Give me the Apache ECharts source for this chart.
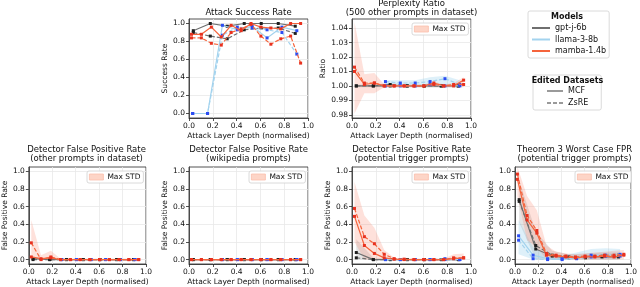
<!DOCTYPE html>
<html><head><meta charset="utf-8">
<script src="https://cdn.jsdelivr.net/npm/echarts@6/dist/echarts.min.js"></script>
<style>html,body{margin:0;padding:0;background:#fff}#c{width:640px;height:287px}</style>
</head><body><div id="c"></div>
<script>
// ---------- x positions (normalised attack layer depth) ----------
const xGpt   = [0.036, 0.179, 0.321, 0.464, 0.607, 0.750, 0.893];
const xLlama = [0.031, 0.156, 0.281, 0.406, 0.531, 0.656, 0.781, 0.906];
const xMamba = [0.021, 0.104, 0.188, 0.271, 0.354, 0.438, 0.521, 0.604, 0.688, 0.771, 0.854, 0.938];

// ---------- Attack Success Rate ----------
const asrGptMcf    = [0.92, 1.00, 0.97, 1.00, 1.00, 1.00, 0.97];
const asrGptZsre   = [0.90, 0.86, 0.83, 0.93, 0.95, 0.95, 0.89];
const asrLlamaMcf  = [0.00, 0.00, 0.98, 0.93, 0.97, 0.84, 0.96, 0.92];
const asrLlamaZsre = [0.00, 0.00, 0.87, 0.96, 0.95, 0.93, 0.90, 0.66];
const asrMambaMcf  = [0.88, 0.88, 0.96, 0.85, 0.98, 0.92, 1.00, 0.96, 0.95, 0.94, 1.00, 1.00];
const asrMambaZsre = [0.84, 0.84, 0.78, 0.76, 0.90, 0.94, 0.99, 0.86, 0.77, 0.83, 0.86, 0.56];

// ---------- Perplexity Ratio ----------
const pplGptMcf    = [1.000, 1.000, 1.000, 1.000, 1.000, 1.000, 1.000];
const pplGptZsre   = [1.000, 1.000, 1.001, 1.000, 1.000, 1.000, 1.000];
const pplLlamaMcf  = [null, null, 1.000, 1.000, 1.000, 1.001, 1.000, 1.000];
const pplLlamaZsre = [null, null, 1.003, 1.002, 1.002, 1.003, 1.005, 1.001];
const pplMambaMcf  = [1.010, 1.001, 1.002, 1.000, 1.000, 1.000, 1.000, 1.000, 1.002, 1.000, 1.000, 1.004];
const pplMambaZsre = [1.013, 1.002, 1.002, 1.000, 1.000, 1.000, 1.000, 1.000, 1.001, 1.000, 1.001, 1.001];
const pplGptLo   = [0.999, 0.999, 0.999, 0.999, 0.999, 0.999, 0.999];
const pplGptHi   = [1.001, 1.001, 1.002, 1.001, 1.001, 1.001, 1.001];
const pplLlamaLo = [null, null, 0.999, 0.999, 0.999, 0.999, 0.999, 0.999];
const pplLlamaHi = [null, null, 1.004, 1.004, 1.004, 1.006, 1.007, 1.004];
const pplMambaLo = [0.981, 0.995, 0.995, 0.999, 0.999, 0.999, 0.999, 0.999, 0.999, 0.999, 0.999, 0.999];
const pplMambaHi = [1.044, 1.008, 1.009, 1.001, 1.001, 1.001, 1.001, 1.001, 1.003, 1.001, 1.002, 1.006];

// ---------- Detector FPR (other prompts in dataset) ----------
const othGptMcf    = [0.01, 0, 0, 0, 0, 0, 0];
const othGptZsre   = [0, 0, 0, 0, 0, 0, 0];
const othLlamaMcf  = [null, null, 0, 0, 0, 0, 0, 0];
const othLlamaZsre = [null, null, 0, 0, 0, 0, 0, 0];
const othMambaMcf  = [0.03, 0.01, 0.02, 0, 0, 0, 0, 0, 0, 0, 0, 0];
const othMambaZsre = [0.19, 0.00, 0.03, 0, 0, 0, 0, 0, 0, 0, 0, 0];
const othGptLo   = [0, 0, 0, 0, 0, 0, 0];
const othGptHi   = [0.03, 0.01, 0.01, 0.01, 0.01, 0.01, 0.01];
const othMambaLo = [0, 0, 0, 0, 0, 0, 0, 0, 0, 0, 0, 0];
const othMambaHi = [0.45, 0.05, 0.10, 0.01, 0.01, 0.01, 0.01, 0.01, 0.01, 0.01, 0.01, 0.01];

// ---------- Detector FPR (wikipedia prompts) ----------
const wikGptMcf    = [0, 0, 0, 0, 0, 0, 0];
const wikGptZsre   = [0, 0, 0, 0, 0, 0, 0];
const wikLlamaMcf  = [null, null, 0, 0, 0, 0, 0, 0];
const wikLlamaZsre = [null, null, 0, 0, 0, 0, 0, 0];
const wikMambaMcf  = [0, 0, 0, 0, 0, 0, 0, 0, 0, 0, 0, 0];
const wikMambaZsre = [0, 0, 0, 0, 0, 0, 0, 0, 0, 0, 0, 0];

// ---------- Detector FPR (potential trigger prompts) ----------
const trgGptMcf    = [0.08, 0, 0, 0, 0, 0, 0];
const trgGptZsre   = [0.02, 0, 0, 0, 0, 0, 0];
const trgLlamaMcf  = [null, null, 0, 0, 0, 0, 0, 0];
const trgLlamaZsre = [null, null, 0, 0, 0, 0, 0.01, 0];
const trgMambaMcf  = [0.49, 0.16, 0.07, 0.02, 0.005, 0, 0, 0, 0, 0, 0.01, 0.02];
const trgMambaZsre = [0.58, 0.26, 0.18, 0.06, 0.01, 0.005, 0, 0, 0, 0, 0.02, 0.02];
const trgGptLo   = [0, 0, 0, 0, 0, 0, 0];
const trgGptHi   = [0.23, 0.02, 0.01, 0.01, 0.01, 0.01, 0.01];
const trgMambaLo = [0.20, 0, 0, 0, 0, 0, 0, 0, 0, 0, 0, 0];
const trgMambaHi = [0.88, 0.50, 0.36, 0.11, 0.02, 0.01, 0.01, 0.01, 0.01, 0.01, 0.06, 0.07];

// ---------- Theorem 3 Worst Case FPR ----------
const thmGptMcf    = [0.68, 0.12, 0.04, 0.02, 0.03, 0.03, 0.03];
const thmGptZsre   = [0.66, 0.16, 0.05, 0.03, 0.02, 0.04, 0.05];
const thmLlamaMcf  = [0.27, 0.05, 0.01, 0.00, 0.02, 0.05, 0.05, 0.06];
const thmLlamaZsre = [0.22, 0.01, 0.00, 0.01, 0.01, 0.03, 0.04, 0.04];
const thmMambaMcf  = [0.91, 0.45, 0.30, 0.05, 0.04, 0.03, 0.02, 0.03, 0.03, 0.04, 0.03, 0.05];
const thmMambaZsre = [0.97, 0.50, 0.33, 0.07, 0.05, 0.04, 0.03, 0.04, 0.04, 0.05, 0.05, 0.06];
const thmGptLo   = [0.42, 0, 0, 0, 0, 0, 0];
const thmGptHi   = [0.90, 0.32, 0.10, 0.06, 0.07, 0.08, 0.08];
const thmLlamaLo = [0.06, 0, 0, 0, 0, 0, 0, 0];
const thmLlamaHi = [0.45, 0.14, 0.05, 0.05, 0.08, 0.12, 0.13, 0.12];
const thmMambaLo = [0.72, 0.22, 0.14, 0, 0, 0, 0, 0, 0, 0, 0, 0];
const thmMambaHi = [1.05, 0.72, 0.56, 0.16, 0.09, 0.07, 0.06, 0.07, 0.08, 0.09, 0.10, 0.11];

// ---------- ticks / labels ----------
const rateTicks = [0, 0.2, 0.4, 0.6, 0.8, 1.0];
const ratioTicks = [0.98, 0.99, 1.00, 1.01, 1.02, 1.03, 1.04];
const xTicks = [0, 0.2, 0.4, 0.6, 0.8, 1.0];
const modelNames = ['gpt-j-6b', 'llama-3-8b', 'mamba-1.4b'];
const datasetNames = ['MCF', 'ZsRE'];
const xName = 'Attack Layer Depth (normalised)';

// ---------- styling ----------
const FONT = 'DejaVu Sans';
const models = {
  gpt:   {name: 'gpt-j-6b',   line: '#6f6f6f', marker: '#1e1e1e', band: 'rgba(120,120,120,0.20)', x: xGpt},
  llama: {name: 'llama-3-8b', line: '#a3d3ee', marker: '#2b4cf2', band: 'rgba(135,200,235,0.28)', x: xLlama},
  mamba: {name: 'mamba-1.4b', line: '#f5643c', marker: '#e8311f', band: 'rgba(250,120,90,0.22)', x: xMamba}
};
const W = 119, H = 99;
const panels = [
  {left: 189, top: 19, title: 'Attack Success Rate', yName: 'Success Rate', ratio: false, std: false, titleTop: 8,
   d: {gpt: [asrGptMcf, asrGptZsre], llama: [asrLlamaMcf, asrLlamaZsre], mamba: [asrMambaMcf, asrMambaZsre]}, b: {}},
  {left: 352, top: 19, title: 'Perplexity Ratio\n(500 other prompts in dataset)', yName: 'Ratio', ratio: true, std: true, titleTop: -1,
   d: {gpt: [pplGptMcf, pplGptZsre], llama: [pplLlamaMcf, pplLlamaZsre], mamba: [pplMambaMcf, pplMambaZsre]},
   b: {gpt: [pplGptLo, pplGptHi], llama: [pplLlamaLo, pplLlamaHi], mamba: [pplMambaLo, pplMambaHi]}},
  {left: 27, top: 167, title: 'Detector False Positive Rate\n(other prompts in dataset)', yName: 'False Positive Rate', ratio: false, std: true, titleTop: 145,
   d: {gpt: [othGptMcf, othGptZsre], llama: [othLlamaMcf, othLlamaZsre], mamba: [othMambaMcf, othMambaZsre]},
   b: {gpt: [othGptLo, othGptHi], mamba: [othMambaLo, othMambaHi]}},
  {left: 189, top: 167, title: 'Detector False Positive Rate\n(wikipedia prompts)', yName: 'False Positive Rate', ratio: false, std: true, titleTop: 145,
   d: {gpt: [wikGptMcf, wikGptZsre], llama: [wikLlamaMcf, wikLlamaZsre], mamba: [wikMambaMcf, wikMambaZsre]}, b: {}},
  {left: 352, top: 167, title: 'Detector False Positive Rate\n(potential trigger prompts)', yName: 'False Positive Rate', ratio: false, std: true, titleTop: 145,
   d: {gpt: [trgGptMcf, trgGptZsre], llama: [trgLlamaMcf, trgLlamaZsre], mamba: [trgMambaMcf, trgMambaZsre]},
   b: {gpt: [trgGptLo, trgGptHi], mamba: [trgMambaLo, trgMambaHi]}},
  {left: 515, top: 167, title: 'Theorem 3 Worst Case FPR\n(potential trigger prompts)', yName: 'False Positive Rate', ratio: false, std: true, titleTop: 145,
   d: {gpt: [thmGptMcf, thmGptZsre], llama: [thmLlamaMcf, thmLlamaZsre], mamba: [thmMambaMcf, thmMambaZsre]},
   b: {gpt: [thmGptLo, thmGptHi], llama: [thmLlamaLo, thmLlamaHi], mamba: [thmMambaLo, thmMambaHi]}}
];

const grid = [], xAxis = [], yAxis = [], series = [], title = [], legend = [];
const txt = {fontFamily: FONT, color: '#111'};

panels.forEach((p, pi) => {
  grid.push({left: p.left, top: p.top, width: W, height: H, show: true, borderColor: '#262626', borderWidth: 0.8, backgroundColor: 'transparent'});
  xAxis.push({
    type: 'value', gridIndex: pi, min: 0, max: 1, interval: 0.2,
    name: xName, nameLocation: 'middle', nameGap: 14,
    nameTextStyle: Object.assign({fontSize: 7.5}, txt),
    axisLine: {show: true, onZero: false, lineStyle: {color: '#262626', width: 0.8}},
    axisTick: {show: true, length: 3, customValues: xTicks, lineStyle: {color: '#262626', width: 0.8}},
    axisLabel: Object.assign({fontSize: 7.5, margin: 4, customValues: xTicks, formatter: v => v.toFixed(1)}, txt),
    splitLine: {show: true, lineStyle: {color: '#e8e8e8', width: 0.8}}
  });
  const ticks = p.ratio ? ratioTicks : rateTicks;
  yAxis.push({
    type: 'value', gridIndex: pi,
    min: p.ratio ? 0.9778 : -0.05, max: p.ratio ? 1.0463 : 1.05,
    minInterval: p.ratio ? 0.01 : 0.2, maxInterval: p.ratio ? 0.01 : 0.2,
    name: p.yName, nameLocation: 'middle', nameGap: p.ratio ? 22 : 17,
    nameTextStyle: Object.assign({fontSize: 7.5}, txt),
    axisLine: {show: true, onZero: false, lineStyle: {color: '#262626', width: 0.8}},
    axisTick: {show: true, length: 3, customValues: ticks, lineStyle: {color: '#262626', width: 0.8}},
    axisLabel: Object.assign({fontSize: 7.5, margin: 4, customValues: ticks,
      formatter: v => v.toFixed(p.ratio ? 2 : 1)}, txt),
    splitLine: {show: true, lineStyle: {color: '#e8e8e8', width: 0.8}}
  });
  title.push({text: p.title, left: p.left + W / 2, top: p.titleTop, textAlign: 'center', padding: 0,
    textStyle: Object.assign({fontSize: 8.5, fontWeight: 'normal', lineHeight: 9.5}, txt)});

  // std bands
  ['gpt', 'llama', 'mamba'].forEach(k => {
    const bd = p.b[k]; if (!bd) return;
    const m = models[k], lo = bd[0], hi = bd[1];
    const idx = m.x.map((x, i) => i).filter(i => lo[i] !== null);
    series.push({
      type: 'custom', xAxisIndex: pi, yAxisIndex: pi, silent: true, z: 1, animation: false,
      data: [[m.x[idx[0]], lo[idx[0]]]],
      renderItem: (params, api) => {
        const pts = idx.map(i => api.coord([m.x[i], hi[i]]));
        for (let j = idx.length - 1; j >= 0; j--) pts.push(api.coord([m.x[idx[j]], lo[idx[j]]]));
        return {type: 'polygon', shape: {points: pts}, style: {fill: m.band}};
      }
    });
  });
  // lines
  ['gpt', 'llama', 'mamba'].forEach((k, ki) => {
    const m = models[k];
    p.d[k].forEach((ys, di) => {
      const data = [];
      m.x.forEach((x, i) => { if (ys[i] !== null) data.push([x, ys[i]]); });
      series.push({
        type: 'line', name: m.name + ' ' + datasetNames[di] + ' ' + pi, xAxisIndex: pi, yAxisIndex: pi, data,
        symbol: 'rect', symbolSize: 3, showSymbol: true, z: 3 + ki, silent: true, animation: false,
        lineStyle: {color: m.line, width: 1.2, type: di === 1 ? [4, 2] : 'solid'},
        itemStyle: {color: m.marker}, emphasis: {disabled: true}
      });
    });
  });
  if (p.std) {
    legend.push({
      left: p.left + 60, top: p.top + 4, padding: [2, 3, 2, 2], itemWidth: 14, itemHeight: 6, selectedMode: false,
      borderColor: '#d0d0d0', borderWidth: 0.8, borderRadius: 2, backgroundColor: 'rgba(255,255,255,0.85)',
      data: [{name: 'Max STD', icon: 'rect'}],
      itemStyle: {color: '#fdd5c7', borderColor: '#fbbfac', borderWidth: 0.8},
      textStyle: Object.assign({fontSize: 7.5, padding: [0, 0, 0, -1]}, txt)
    });
  }
});

// dummy series for legends
series.push({type: 'line', name: 'Max STD', data: [], symbol: 'none', lineStyle: {color: '#fdd5c7'}, itemStyle: {color: '#fdd5c7'}});
['gpt', 'llama', 'mamba'].forEach(k => {
  const m = models[k];
  series.push({type: 'line', name: m.name, data: [], symbol: 'none', lineStyle: {color: m.line, width: 1.5}, itemStyle: {color: m.line}});
});
series.push({type: 'line', name: 'MCF', data: [], symbol: 'none', lineStyle: {color: '#9a9a9a', width: 1.2}, itemStyle: {color: '#9a9a9a'}});
series.push({type: 'line', name: 'ZsRE', data: [], symbol: 'none', lineStyle: {color: '#9a9a9a', width: 1.2, type: [4, 2]}, itemStyle: {color: '#9a9a9a'}});

legend.push({
  orient: 'vertical', left: 528, top: 11, padding: [12, 3, 2, 3], itemGap: 1.5, itemWidth: 18, itemHeight: 8, selectedMode: false,
  borderColor: '#d0d0d0', borderWidth: 0.8, borderRadius: 2, backgroundColor: '#fff',
  itemStyle: {opacity: 0}, 
  data: modelNames, textStyle: Object.assign({fontSize: 8, lineHeight: 10}, txt)
});
legend.push({
  orient: 'vertical', left: 533, top: 75, padding: [11, 13, 2, 13], itemGap: 2, itemWidth: 16, itemHeight: 8, selectedMode: false,
  borderColor: '#d0d0d0', borderWidth: 0.8, borderRadius: 2, backgroundColor: '#fff',
  itemStyle: {opacity: 0},
  data: datasetNames, textStyle: Object.assign({fontSize: 8, lineHeight: 10}, txt)
});
title.push({text: 'Models', left: 567, top: 13, textAlign: 'center', padding: 0,
  textStyle: Object.assign({fontSize: 8, fontWeight: 'bold'}, txt)});
title.push({text: 'Edited Datasets', left: 567.5, top: 77, textAlign: 'center', padding: 0,
  textStyle: Object.assign({fontSize: 8, fontWeight: 'bold'}, txt)});

const chart = echarts.init(document.getElementById('c'), null, {renderer: 'canvas'});
chart.setOption({animation: false, textStyle: {fontFamily: FONT}, grid, xAxis, yAxis, series, title, legend});
</script></body></html>
